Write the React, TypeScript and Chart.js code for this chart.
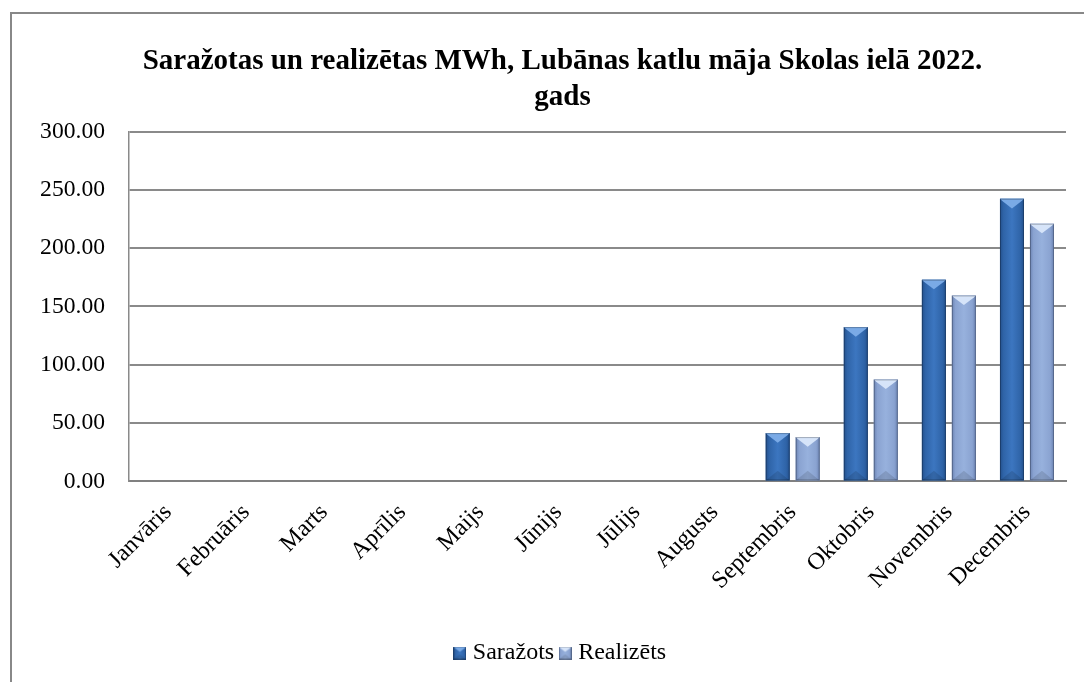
import React, { useEffect, useRef } from "react";
import { Chart, registerables } from "chart.js";

Chart.register(...registerables);

const TITLE_LINES = ["Saražotas un realizētas MWh, Lubānas katlu māja Skolas ielā 2022.", "gads"];
const MONTHS = [
  "Janvāris", "Februāris", "Marts", "Aprīlis", "Maijs", "Jūnijs",
  "Jūlijs", "Augusts", "Septembris", "Oktobris", "Novembris", "Decembris",
];
const SARAZOTS = [0, 0, 0, 0, 0, 0, 0, 0, 41.4, 132.3, 172.9, 242.3];
const REALIZETS = [0, 0, 0, 0, 0, 0, 0, 0, 38.0, 87.4, 159.4, 220.9];
const Y_MIN = 0;
const Y_MAX = 300;
const Y_STEP = 50;

const FONT = "'Liberation Serif', 'Times New Roman', serif";
Chart.defaults.font.family = FONT;

const STYLES = [
  { base: "#2F64A8", edge: "#23508C", mid: "#3C76C0", tri: "#7AAAE6" },
  { base: "#8AA3D1", edge: "#6C84B4", mid: "#97B1DD", tri: "#D6E4F9" },
];

function paintBevel(ctx: CanvasRenderingContext2D, st: any, l: number, top: number, w: number, h: number) {
  const r = l + w;
  const cx = l + w / 2;
  const g = ctx.createLinearGradient(l, 0, r, 0);
  g.addColorStop(0, st.edge);
  g.addColorStop(0.15, st.base);
  g.addColorStop(0.5, st.mid);
  g.addColorStop(0.85, st.base);
  g.addColorStop(1, st.edge);
  ctx.fillStyle = g;
  ctx.fillRect(l, top, w, h);
  const d = Math.min(w * 0.4, h / 2);
  ctx.fillStyle = st.tri;
  ctx.beginPath();
  ctx.moveTo(l, top);
  ctx.lineTo(r, top);
  ctx.lineTo(r - 2, top + 2);
  ctx.lineTo(cx, top + d);
  ctx.lineTo(l + 2, top + 2);
  ctx.closePath();
  ctx.fill();
  ctx.fillStyle = "rgba(0,0,0,0.12)";
  ctx.beginPath();
  ctx.moveTo(l, top + h);
  ctx.lineTo(r, top + h);
  ctx.lineTo(cx, top + h - Math.min(d, h / 2));
  ctx.closePath();
  ctx.fill();
  ctx.strokeStyle = "rgba(0,0,0,0.25)";
  ctx.lineWidth = 1;
  ctx.strokeRect(l + 0.5, top + 0.5, w - 1, h - 1);
}

function legendImage(st: any) {
  const c = document.createElement("canvas");
  c.width = 13;
  c.height = 13;
  const cx = c.getContext("2d")!;
  paintBevel(cx, st, 0, 0, 13, 13);
  return c;
}

const bevelPlugin = {
  id: "bevel",
  afterDatasetsDraw(chart: any) {
    const ctx = chart.ctx;
    chart.data.datasets.forEach((ds: any, di: number) => {
      const meta = chart.getDatasetMeta(di);
      const st = STYLES[di];
      meta.data.forEach((el: any) => {
        const p = el.getProps(["x", "y", "base", "width"], true);
        const h = p.base - p.y;
        if (h < 1) return;
        ctx.save();
        paintBevel(ctx, st, p.x - p.width / 2, p.y, p.width, h);
        ctx.restore();
      });
    });
  },
};

export default function App() {
  const ref = useRef<HTMLCanvasElement>(null);

  useEffect(() => {
    if (!ref.current) return;
    const imgs = STYLES.map(legendImage);
    const chart = new Chart(ref.current, {
      type: "bar",
      data: {
        labels: MONTHS,
        datasets: [
          {
            label: "Saražots",
            data: SARAZOTS,
            backgroundColor: STYLES[0].base,
            categoryPercentage: 0.768,
            barPercentage: 0.8,
          },
          {
            label: "Realizēts",
            data: REALIZETS,
            backgroundColor: STYLES[1].base,
            categoryPercentage: 0.768,
            barPercentage: 0.8,
          },
        ],
      },
      options: {
        animation: false,
        responsive: false,
        maintainAspectRatio: false,
        layout: { padding: { left: 0, right: 0, top: 0, bottom: 29 } },
        plugins: {
          title: {
            display: true,
            text: TITLE_LINES,
            color: "#000",
            font: { family: FONT, size: 29, weight: "bold", lineHeight: 1.25 },
            padding: { top: 29, bottom: 16 },
          },
          legend: {
            position: "bottom",
            labels: {
              color: "#000",
              font: { family: FONT, size: 24 },
              usePointStyle: true,
              boxWidth: 2,
              boxHeight: 13,
              padding: 10,
              generateLabels: (c: any) =>
                Chart.defaults.plugins.legend.labels
                  .generateLabels(c)
                  .map((it: any, i: number) => ({ ...it, pointStyle: imgs[i] })),
            },
          },
          tooltip: { enabled: false },
        },
        scales: {
          x: {
            grid: { display: false, drawTicks: false },
            border: { display: true, color: "#808080", width: 2 },
            ticks: {
              color: "#000",
              font: { family: FONT, size: 24 },
              minRotation: 45,
              maxRotation: 45,
              autoSkip: false,
              padding: 17,
            },
            afterFit: (s: any) => {
              s.height = 149.6;
            },
          },
          y: {
            min: Y_MIN,
            max: Y_MAX,
            grid: { color: "#8A8A8A", lineWidth: 2, drawTicks: false },
            border: { display: true, color: "#8A8A8A", width: 1.5 },
            ticks: {
              stepSize: Y_STEP,
              color: "#000",
              font: { family: FONT, size: 23.6 },
              padding: 24,
              callback: (v: any) => Number(v).toFixed(2),
            },
            afterFit: (s: any) => {
              s.width = 117;
            },
          },
          yRightSpace: {
            position: "right",
            display: true,
            grid: { display: false, drawTicks: false },
            border: { display: false },
            ticks: { display: false },
            afterFit: (s: any) => {
              s.width = 47;
            },
          },
        },
      },
      plugins: [bevelPlugin],
    });
    return () => chart.destroy();
  }, []);

  return (
    <div style={{ position: "fixed", left: 0, top: 0, width: 1084, height: 682, overflow: "hidden", background: "#fff" }}>
      <div style={{ position: "absolute", left: 10, top: 12, width: 1101, height: 690, border: "2px solid #888" }}>
        <canvas ref={ref} width={1101} height={690} style={{ display: "block", width: 1101, height: 690 }} />
      </div>
    </div>
  );
}
